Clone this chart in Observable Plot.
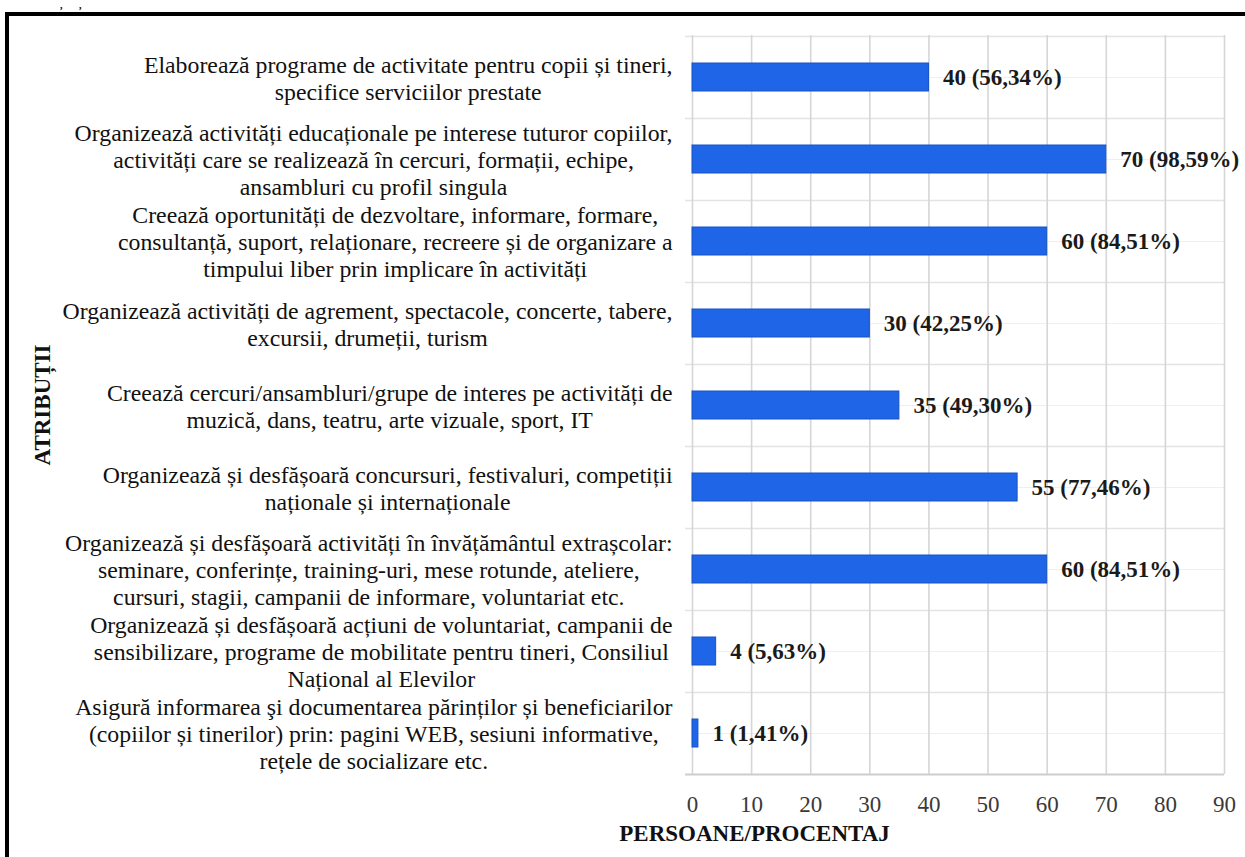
<!DOCTYPE html>
<html><head><meta charset="utf-8">
<script src="https://cdn.jsdelivr.net/npm/d3@7"></script>
<script src="https://cdn.jsdelivr.net/npm/@observablehq/plot@0.6"></script>
<style>
html,body{margin:0;padding:0;background:#fff;overflow:hidden;width:1245px;height:857px}
#chart{position:absolute;left:0;top:0}
#border{position:absolute;left:5px;top:12px;width:1270px;height:880px;border:4px solid #000;box-sizing:border-box;pointer-events:none}
#marks{position:absolute;left:60px;top:0px;font:bold 10px 'Liberation Serif',serif;letter-spacing:7px;line-height:normal}
</style></head><body>
<div id="chart"></div><div id="border"></div><div id="marks">, ,</div>
<script>
// ---- data ----
const categories = [
  "Elaborează programe de activitate pentru copii și tineri,\nspecifice serviciilor prestate",
  "Organizează activități educaționale pe interese tuturor copiilor,\nactivități care se realizează în cercuri, formații, echipe,\nansambluri cu profil singula",
  "Creează oportunități de dezvoltare, informare, formare,\nconsultanță, suport, relaționare, recreere și de organizare a\ntimpului liber prin implicare în activități",
  "Organizează activități de agrement, spectacole, concerte, tabere,\nexcursii, drumeții, turism",
  "Creează cercuri/ansambluri/grupe de interes pe activități de\nmuzică, dans, teatru, arte vizuale, sport, IT",
  "Organizează și desfășoară concursuri, festivaluri, competiții\nnaționale și internaționale",
  "Organizează și desfășoară activități în învățământul extrașcolar:\nseminare, conferințe, training-uri, mese rotunde, ateliere,\ncursuri, stagii, campanii de informare, voluntariat etc.",
  "Organizează și desfășoară acțiuni de voluntariat, campanii de\nsensibilizare, programe de mobilitate pentru tineri, Consiliul\nNațional al Elevilor",
  "Asigură informarea şi documentarea părinților și beneficiarilor\n(copiilor și tinerilor) prin: pagini WEB, sesiuni informative,\nrețele de socializare etc."
];
const values = [40, 70, 60, 30, 35, 55, 60, 4, 1];
const percents = ["56,34%", "98,59%", "84,51%", "42,25%", "49,30%", "77,46%", "84,51%", "5,63%", "1,41%"];
const xTicks = [0, 10, 20, 30, 40, 50, 60, 70, 80, 90];
const xTitle = "PERSOANE/PROCENTAJ";
const yTitle = "ATRIBUȚII";

// ---- layout ----
const W = 1245, H = 857;
const mL = 692, mR = 21, mT = 35, mB = 83;
const step = (H - mT - mB) / categories.length;
const FS = 23;      // bold labels, ticks, titles
const CFS = 23.8;   // category labels
const FONT = "'Liberation Serif','Times New Roman',serif";

const data = categories.map((c, i) => ({cat: c, value: values[i], label: `${values[i]} (${percents[i]})`}));

const ctx = document.createElement("canvas").getContext("2d");
ctx.font = `${CFS}px "Liberation Serif"`;
const catMarks = categories.map(c => {
  const w = d3.max(c.split("\n"), l => ctx.measureText(l).width);
  return Plot.text([c], {
    y: d => d, text: d => d, frameAnchor: "left", textAnchor: "middle",
    dx: -(20 + w / 2), lineHeight: 27 / CFS, fontSize: CFS, fontFamily: FONT, fill: "#111"
  });
});

const last = categories[categories.length - 1];
const chart = Plot.plot({
  width: W, height: H,
  marginLeft: mL, marginRight: mR, marginTop: mT, marginBottom: mB,
  style: {fontFamily: FONT, fontSize: FS + "px", color: "#3a3a3a", background: "transparent"},
  x: {domain: [0, 90], axis: null},
  y: {domain: categories, axis: null, paddingInner: 0.66, paddingOuter: 0.33},
  marks: [
    // center (minor) gridlines
    Plot.ruleY(categories, {y: d => d, stroke: "#efefef", strokeWidth: 1.2}),
    // category boundary gridlines with left ticks
    Plot.ruleY(categories, {y: d => d, dy: -step / 2, stroke: "#e3e3e3", strokeWidth: 1.5, insetLeft: -7}),
    // vertical gridlines
    Plot.ruleX(xTicks, {x: d => d, stroke: "#d6d6d6", strokeWidth: 1.6}),
    // bottom axis line
    Plot.ruleY([last], {y: d => d, dy: step / 2, stroke: "#cdcdcd", strokeWidth: 2, insetLeft: -7}),
    Plot.barX(data, {x: "value", y: "cat", fill: "#1f65e8", stroke: "#1852c4", strokeWidth: 1}),
    Plot.text(data, {x: "value", y: "cat", text: "label", dx: 14, textAnchor: "start",
      fontWeight: "bold", fontSize: FS, fontFamily: FONT, fill: "#1a1a1a"}),
    Plot.axisX(xTicks, {tickSize: 0, tickPadding: 21, fontSize: FS, fontFamily: FONT, label: null, tickFormat: d => String(d)}),
    ...catMarks,
    Plot.text([xTitle], {frameAnchor: "bottom-left", text: d => d, dx: 754 - mL, dy: 66,
      textAnchor: "middle", fontWeight: "bold", fontSize: FS, fontFamily: FONT, fill: "#111"}),
    Plot.text([yTitle], {frameAnchor: "left", text: d => d, dx: 42 - mL, rotate: -90,
      textAnchor: "middle", fontWeight: "bold", fontSize: FS, fontFamily: FONT, fill: "#111"})
  ]
});
document.getElementById("chart").appendChild(chart);
</script>
</body></html>
